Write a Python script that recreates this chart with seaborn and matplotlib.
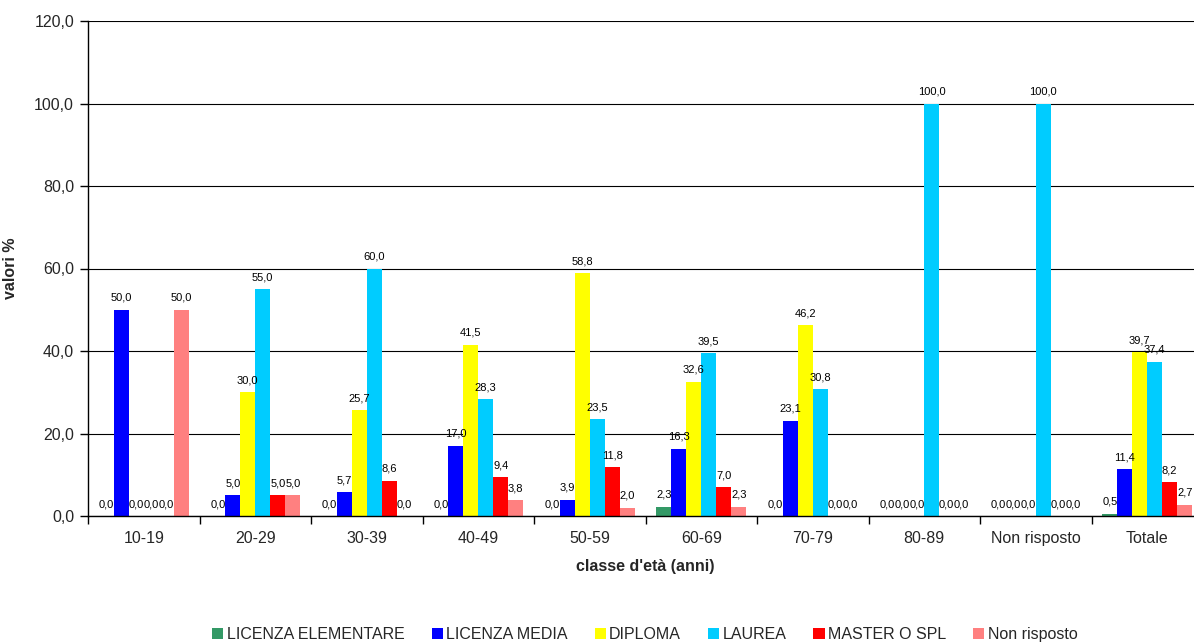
import matplotlib
matplotlib.use("Agg")
import matplotlib.pyplot as plt
import seaborn as sns
import pandas as pd
import numpy as np
from matplotlib.patches import Patch

categories = ["10-19", "20-29", "30-39", "40-49", "50-59", "60-69", "70-79", "80-89", "Non risposto", "Totale"]
series = ["LICENZA ELEMENTARE", "LICENZA MEDIA", "DIPLOMA", "LAUREA", "MASTER O SPL", "Non risposto"]
lic_elementare = [0.0, 0.0, 0.0, 0.0, 0.0, 2.3, 0.0, 0.0, 0.0, 0.5]
lic_media = [50.0, 5.0, 5.7, 17.0, 3.9, 16.3, 23.1, 0.0, 0.0, 11.4]
diploma = [0.0, 30.0, 25.7, 41.5, 58.8, 32.6, 46.2, 0.0, 0.0, 39.7]
laurea = [0.0, 55.0, 60.0, 28.3, 23.5, 39.5, 30.8, 100.0, 100.0, 37.4]
master = [0.0, 5.0, 8.6, 9.4, 11.8, 7.0, 0.0, 0.0, 0.0, 8.2]
non_risposto = [50.0, 5.0, 0.0, 3.8, 2.0, 2.3, 0.0, 0.0, 0.0, 2.7]
colors = ["#339966", "#0000FF", "#FFFF00", "#00CCFF", "#FF0000", "#FF8080"]

values = [lic_elementare, lic_media, diploma, laurea, master, non_risposto]
rows = []
for s, vals in zip(series, values):
    for c, v in zip(categories, vals):
        rows.append({"cat": c, "val": v, "serie": s})
df = pd.DataFrame(rows)

sns.set_theme(style="white")
plt.rcParams["font.family"] = ["Liberation Sans", "DejaVu Sans"]

fig = plt.figure(figsize=(11.94, 6.44), dpi=100)
ax = fig.add_axes([88/1194, 1-516/644, 1115/1194, 495/644])

sns.barplot(data=df, x="cat", y="val", hue="serie", order=categories, hue_order=series,
            palette=colors, width=0.807, linewidth=0, saturation=1, errorbar=None, ax=ax, legend=False)

for cont, vals in zip(ax.containers, values):
    labels = [f"{v:.1f}".replace(".", ",") for v in vals]
    ax.bar_label(cont, labels=labels, padding=5, fontsize=8, color="#000000")

ax.set_ylim(0, 120)
ax.set_xlim(-0.5, 9.5)
ax.set_yticks(np.arange(0, 121, 20))
ax.set_yticklabels([f"{v:.1f}".replace(".", ",") for v in np.arange(0, 121, 20)], fontsize=11.5)
ax.yaxis.grid(True, color="#000000", linewidth=0.8)
ax.set_axisbelow(True)
ax.set_xticks(np.arange(-0.5, 10, 1))
ax.set_xticklabels([])
ax.set_xticks(np.arange(10), minor=True)
ax.set_xticklabels(categories, minor=True, fontsize=11.5)
ax.tick_params(axis="x", which="major", direction="out", length=6, width=1, color="black", bottom=True)
ax.tick_params(axis="x", which="minor", length=0, pad=11)
ax.tick_params(axis="y", direction="out", length=6, width=1, color="black", left=True, pad=4)
for sp in ["top", "right"]:
    ax.spines[sp].set_visible(False)
for sp in ["left", "bottom"]:
    ax.spines[sp].set_color("black")
    ax.spines[sp].set_linewidth(1)

ax.set_xlabel("classe d'età (anni)", fontsize=11.5, fontweight="bold", labelpad=9)
ax.set_ylabel("valori %", fontsize=11.5, fontweight="bold")
ax.yaxis.set_label_coords((18 - 88) / 1115, 0.5)

handles = [Patch(facecolor=c, edgecolor="none") for c in colors]
fig.legend(handles, series, loc="center", bbox_to_anchor=(0.540, 0.014), ncol=6, frameon=False,
           fontsize=11.5, handlelength=0.7, handleheight=0.7, handletextpad=0.2, columnspacing=1.7)

fig.savefig("out.png", dpi=100)
